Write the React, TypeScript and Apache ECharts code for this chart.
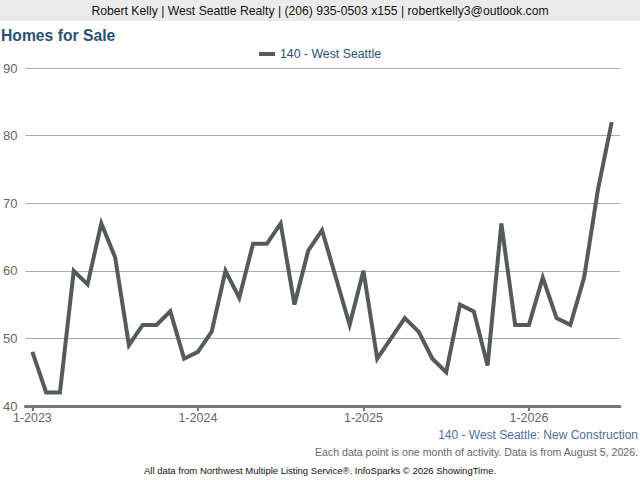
import React, { useEffect, useRef } from "react";
import * as echarts from "echarts";

const headerText = "Robert Kelly | West Seattle Realty | (206) 935-0503 x155 | robertkelly3@outlook.com";
const titleText = "Homes for Sale";
const seriesName = "140 - West Seattle";
const subtitleText = "140 - West Seattle: New Construction";
const noteText = "Each data point is one month of activity. Data is from August 5, 2026.";
const footerText = "All data from Northwest Multiple Listing Service®. InfoSparks © 2026 ShowingTime.";

const startYear = 2023;
const months = [
  "1-2023", "2-2023", "3-2023", "4-2023", "5-2023", "6-2023", "7-2023", "8-2023", "9-2023", "10-2023", "11-2023", "12-2023",
  "1-2024", "2-2024", "3-2024", "4-2024", "5-2024", "6-2024", "7-2024", "8-2024", "9-2024", "10-2024", "11-2024", "12-2024",
  "1-2025", "2-2025", "3-2025", "4-2025", "5-2025", "6-2025", "7-2025", "8-2025", "9-2025", "10-2025", "11-2025", "12-2025",
  "1-2026", "2-2026", "3-2026", "4-2026", "5-2026", "6-2026", "7-2026",
];
const values = [
  48, 42, 42, 60, 58, 67, 62, 49, 52, 52, 54, 47,
  48, 51, 60, 56, 64, 64, 67, 55, 63, 66, 59, 52,
  60, 47, 50, 53, 51, 47, 45, 55, 54, 46, 67, 52,
  52, 59, 53, 52, 59, 72, 82,
];
const xTickIndices = [0, 12, 24, 36];
const yTicks = [40, 50, 60, 70, 80, 90];

const FONT = "'Liberation Sans', Arial, sans-serif";

export default function App() {
  const ref = useRef<HTMLDivElement>(null);
  useEffect(() => {
    document.body.style.margin = "0";
    const chart = echarts.init(ref.current!, undefined, { renderer: "svg" });
    const data = values.map((v, i) => [i, v]);
    chart.setOption({
      animation: false,
      textStyle: { fontFamily: FONT },
      graphic: [
        { type: "rect", shape: { x: 0, y: 0, width: 640, height: 21 }, style: { fill: "#ebebeb" }, silent: true },
        { type: "text", x: 320, y: 11, style: { text: headerText, fill: "#111", font: `12.2px ${FONT}`, textAlign: "center", textVerticalAlign: "middle" } },
        { type: "text", x: 1, y: 35, style: { text: titleText, fill: "#2b5073", font: `bold 15.7px ${FONT}`, textAlign: "left", textVerticalAlign: "middle" } },
        { type: "text", x: 638, y: 435, style: { text: subtitleText, fill: "#4a6fa0", font: `12px ${FONT}`, textAlign: "right", textVerticalAlign: "middle" } },
        { type: "text", x: 638, y: 452, style: { text: noteText, fill: "#666", font: `10.6px ${FONT}`, textAlign: "right", textVerticalAlign: "middle" } },
        { type: "text", x: 320, y: 470, style: { text: footerText, fill: "#111", font: `9.5px ${FONT}`, textAlign: "center", textVerticalAlign: "middle" } },
      ],
      legend: {
        top: 43,
        left: "center",
        itemWidth: 16,
        itemHeight: 4,
        icon: "rect",
        itemGap: 6,
        textStyle: { color: "#2b5073", fontSize: 12.3, fontFamily: FONT },
        data: [{ name: seriesName, icon: "rect", itemStyle: { color: "#535c5a" } }],
      },
      grid: { left: 25, right: 20, top: 68, bottom: 74, containLabel: false },
      xAxis: {
        type: "value",
        min: -0.5,
        max: 42.6,
        splitLine: { show: false },
        axisLine: { show: true, onZero: false, lineStyle: { color: "#777", width: 3 } },
        axisTick: { show: true, customValues: xTickIndices, length: 5, lineStyle: { color: "#777", width: 2 } },
        axisLabel: {
          customValues: xTickIndices,
          formatter: (v: number) => months[Math.round(v)] ?? `1-${startYear + v / 12}`,
          color: "#666",
          fontSize: 12.5,
          margin: 5,
          fontFamily: FONT,
        },
      },
      yAxis: {
        type: "value",
        min: 40,
        max: 90,
        interval: 10,
        axisLine: { show: false },
        axisTick: { show: false },
        axisLabel: {
          color: "#666",
          fontSize: 13,
          margin: 8,
          fontFamily: FONT,
          formatter: (v: number) => (yTicks.includes(v) ? String(v) : ""),
        },
        splitLine: { lineStyle: { color: "#aaa", width: 1 } },
      },
      series: [
        {
          name: seriesName,
          type: "line",
          data,
          showSymbol: false,
          symbol: "none",
          lineStyle: { color: "#535c5a", width: 4, join: "miter" },
          itemStyle: { color: "#535c5a" },
        },
      ],
    });
    return () => chart.dispose();
  }, []);
  return <div ref={ref} style={{ width: 640, height: 480, position: "absolute", left: 0, top: 0 }} />;
}
